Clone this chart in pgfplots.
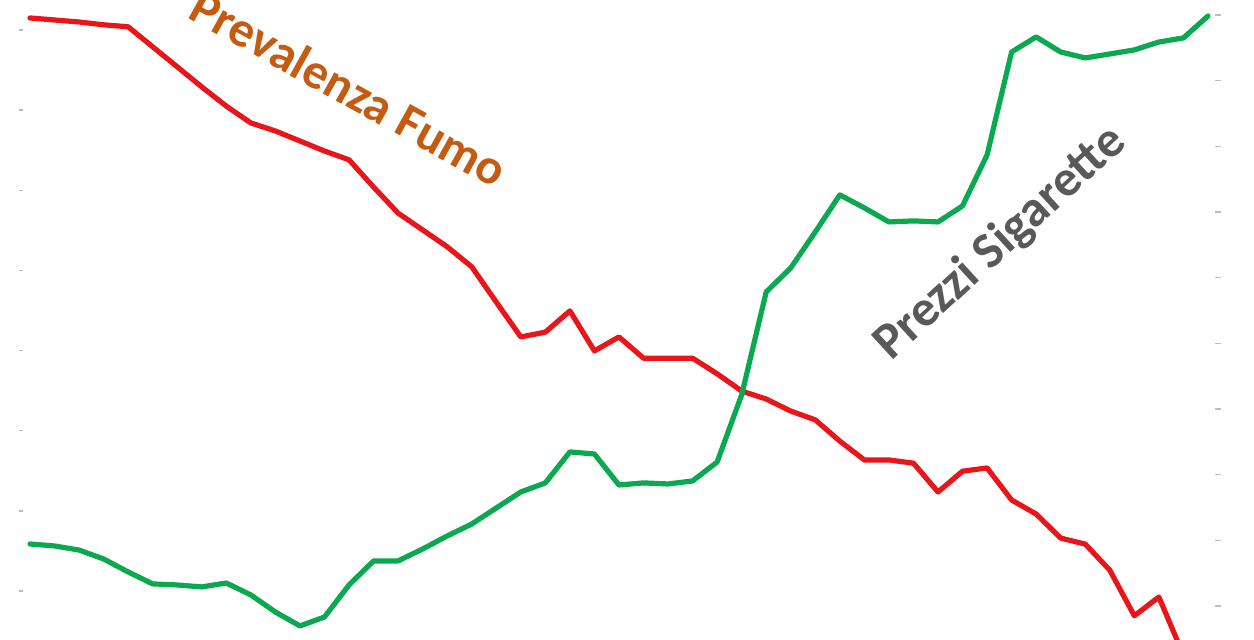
\documentclass[border=0pt]{standalone}
\usepackage{fontspec}
\setmainfont{Carlito}
\usepackage{pgfplots}
\usepackage{pgfplotstable}
\pgfplotsset{compat=1.18}

\definecolor{fumored}{HTML}{E8161B}
\definecolor{prezzigreen}{HTML}{0AA84F}
\definecolor{labelorange}{HTML}{C55A11}
\definecolor{labelgray}{HTML}{595959}
\definecolor{tickgray}{HTML}{BDBDBD}

% prevalenza fumo (%), left scale
\pgfplotstableread{
i v
0 34.30
1 34.25
2 34.20
3 34.13
4 34.08
5 33.58
6 33.08
7 32.58
8 32.10
9 31.68
10 31.48
11 31.23
12 30.98
13 30.76
14 30.08
15 29.43
16 29.01
17 28.59
18 28.09
19 27.21
20 26.34
21 26.46
22 26.99
23 25.99
24 26.34
25 25.81
26 25.81
27 25.81
28 25.42
29 24.99
30 24.79
31 24.49
32 24.27
33 23.74
34 23.27
35 23.27
36 23.19
37 22.47
38 22.99
39 23.07
40 22.27
41 21.92
42 21.32
43 21.17
44 20.52
45 19.38
46 19.85
47 18.40
}\prevalenza

% prezzi sigarette, right scale
\pgfplotstableread{
i p
0 2.472
1 2.457
2 2.426
3 2.358
4 2.259
5 2.168
6 2.160
7 2.145
8 2.175
9 2.084
10 1.954
11 1.848
12 1.916
13 2.160
14 2.343
15 2.343
16 2.434
17 2.533
18 2.624
19 2.746
20 2.868
21 2.937
22 3.173
23 3.157
24 2.921
25 2.937
26 2.929
27 2.952
28 3.096
29 3.607
30 4.391
31 4.574
32 4.848
33 5.130
34 5.031
35 4.924
36 4.932
37 4.924
38 5.046
39 5.434
40 6.218
41 6.333
42 6.218
43 6.173
44 6.203
45 6.234
46 6.294
47 6.325
48 6.492
}\prezzi

\pgfplotsset{
  base/.style={
    scale only axis, width=599.5pt, height=320pt,
    at={(0,0)}, anchor=south west,
    xmin=-0.448, xmax=48.41,
    axis x line=none,
    y axis line style={draw=none},
    yticklabels={},
    ytick style={draw=tickgray, line width=0.7pt},
  },
}

\begin{document}
\begin{tikzpicture}
\useasboundingbox (-9.5pt,0pt) rectangle (617.5pt,320pt);
\begin{axis}[base,
  ymin=18.777, ymax=34.749,
  axis y line*=left,
  ytick={20,22,...,34},
  tick align=inside, major tick length=2pt]
  \addplot[fumored, line width=2.6pt, line join=round, line cap=round]
    table[x=i, y=v]{\prevalenza};
  \node[labelorange, font=\fontsize{25}{29}\selectfont\bfseries, rotate=-29]
    at (axis cs:13.0,32.55) {Prevalenza Fumo};
\end{axis}
\begin{axis}[base,
  ymin=1.741, ymax=6.614,
  axis y line*=right,
  ytick={2,2.5,...,6.5},
  tick align=center, major tick length=3pt]
  \addplot[prezzigreen, line width=2.6pt, line join=round, line cap=round]
    table[x=i, y=p]{\prezzi};
  \node[labelgray, font=\fontsize{25.5}{30}\selectfont\bfseries, rotate=42.5]
    at (axis cs:39.55,4.76) {Prezzi Sigarette};
\end{axis}
\end{tikzpicture}
\end{document}
